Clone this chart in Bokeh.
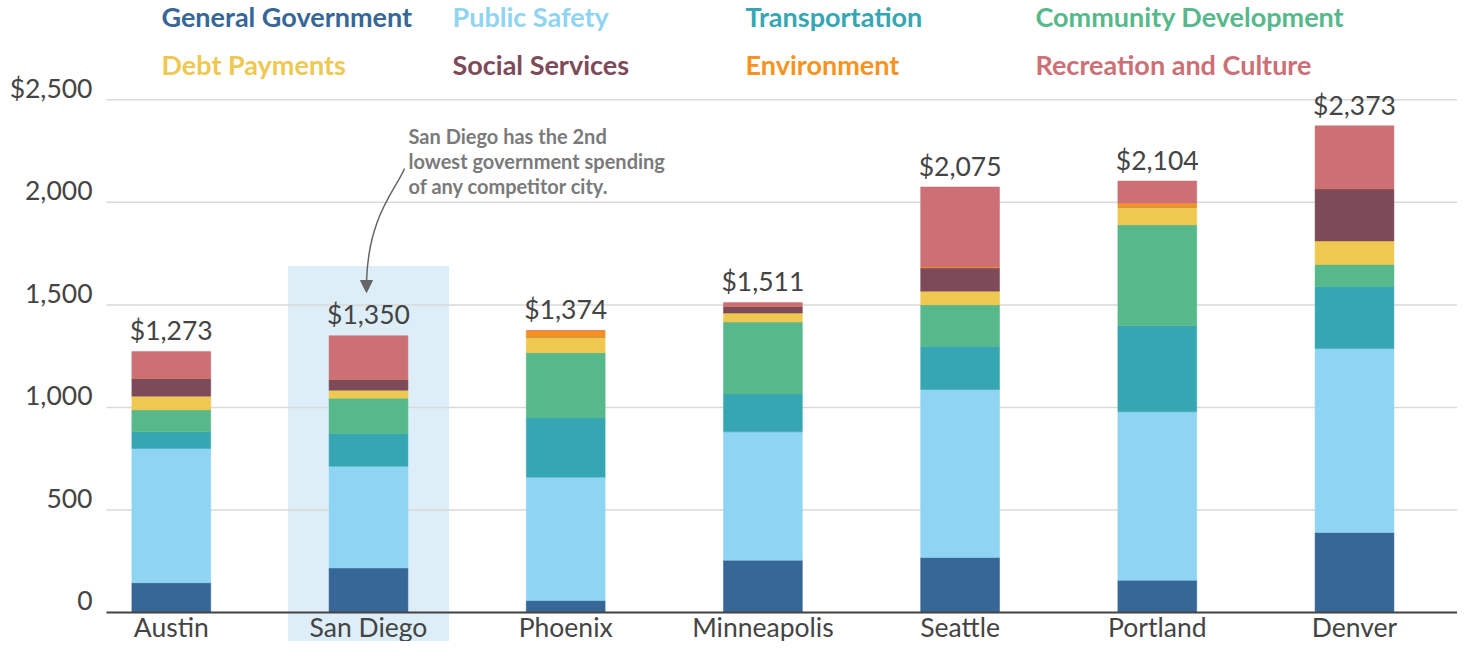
from bokeh.plotting import figure
from bokeh.models import (ColumnDataSource, Range1d, Label, LabelSet, Arrow, NormalHead)
from bokeh.core.properties import value
from bokeh.embed import file_html
from bokeh.resources import INLINE

# ---------------- data ----------------
cities = ["Austin", "San Diego", "Phoenix", "Minneapolis", "Seattle", "Portland", "Denver"]

general_government = [145, 217, 58, 255, 268, 157, 390]
public_safety = [655, 496, 602, 626, 819, 822, 897]
transportation = [81, 159, 289, 184, 210, 419, 303]
community_development = [107, 173, 318, 351, 203, 492, 107]
debt_payments = [67, 39, 77, 44, 67, 88, 115]
social_services = [87, 53, 0, 33, 113, 0, 255]
environment = [0, 0, 30, 0, 5, 17, 0]
recreation_and_culture = [131, 213, 0, 18, 390, 109, 306]

series_names = ["General Government", "Public Safety", "Transportation",
                "Community Development", "Debt Payments", "Social Services",
                "Environment", "Recreation and Culture"]
series_values = [general_government, public_safety, transportation,
                 community_development, debt_payments, social_services,
                 environment, recreation_and_culture]
series_colors = ["#366797", "#8fd4f2", "#36a6b3", "#56b88b",
                 "#eec851", "#7d4a59", "#f7931e", "#cd7076"]

y_ticks = [0, 500, 1000, 1500, 2000, 2500]
y_tick_labels = ["0", "500", "1,000", "1,500", "2,000", "$2,500"]

highlight_city = "San Diego"
highlight_top = 1690
note_lines = ["San Diego has the 2nd", "lowest government spending",
              "of any competitor city."]

# ---------------- layout (pixels inside the figure) ----------------
W, H = 1457, 641
GRID_L = 106
BAR0_PX, BAR_STEP_PX = 170.8, 197.2
ZERO_PX = 612.0
PX_PER_UNIT = (612.0 - 99.3) / 2500


def xd(px):
    return (px - BAR0_PX) / BAR_STEP_PX


def yd(py):
    return (ZERO_PX - py) / PX_PER_UNIT


FONT = "Lato"
TXT = "#444444"

p = figure(width=W, height=H,
           x_range=Range1d(xd(0), xd(W)), y_range=Range1d(yd(H), yd(0)),
           x_axis_location=None, y_axis_location=None,
           toolbar_location=None, output_backend="svg",
           min_border_left=0, min_border_right=0,
           min_border_top=0, min_border_bottom=0,
           outline_line_color=None, background_fill_color="white",
           border_fill_color="white")
p.xgrid.visible = False
p.ygrid.visible = False

xs = list(range(len(cities)))
hi = cities.index(highlight_city)

# highlight box behind everything
p.quad(left=[hi - 0.408], right=[hi + 0.408], bottom=[yd(H) - 200], top=[highlight_top],
       fill_color="#ddeef8", line_color=None)

# value grid lines (0 line drawn darker as the baseline)
grid_src = ColumnDataSource(dict(
    y=y_ticks,
    x0=[xd(GRID_L)] * len(y_ticks),
    x1=[xd(W + 5)] * len(y_ticks),
    color=["#444444" if t == 0 else "#d9d9d9" for t in y_ticks],
    width=[2 if t == 0 else 1.5 for t in y_ticks],
    label_y=[t + 11.6 / PX_PER_UNIT for t in y_ticks],
    label_x=[xd(92)] * len(y_ticks),
    label=y_tick_labels,
))
p.segment(x0="x0", x1="x1", y0="y", y1="y", source=grid_src,
          line_color="#d9d9d9", line_width=1.5)

# y tick labels (sit just above their grid lines)
p.add_layout(LabelSet(x="label_x", y="label_y", text="label", source=grid_src,
                      text_align="right", text_baseline="middle",
                      text_font=value(FONT), text_font_size=value("26.5px"),
                      text_color=TXT))

# stacked bars
data = {"x": xs, "city": cities}
for name, vals in zip(series_names, series_values):
    data[name] = vals
totals = [sum(v[i] for v in series_values) for i in range(len(cities))]
data["total_y"] = [t + 21.3 / PX_PER_UNIT for t in totals]
data["total_label"] = ["${:,}".format(t) for t in totals]
data["city_y"] = [yd(626)] * len(cities)
src = ColumnDataSource(data)

p.vbar_stack(series_names, x="x", width=0.4, source=src,
             fill_color=series_colors, line_color=series_colors, line_width=0.5)

# baseline
p.segment(x0=[xd(GRID_L)], x1=[xd(W + 5)], y0=[0], y1=[0],
          line_color="#444444", line_width=2)

# totals above bars
p.text(x="x", y="total_y", text="total_label", source=src, text_align="center",
       text_baseline="middle", text_font=value(FONT),
       text_font_size=value("26.5px"), text_color=TXT)

# city labels
p.text(x="x", y="city_y", text="city", source=src, text_align="center",
       text_baseline="middle", text_font=value(FONT),
       text_font_size=value("26.5px"), text_color=TXT)

# legend as coloured text
legend_px = [(161, 16.3), (452, 16.3), (745, 16.3), (1035, 16.3),
             (161, 63.6), (452, 63.6), (745, 63.6), (1035, 63.6)]
for name, color, (lx, ly) in zip(series_names, series_colors, legend_px):
    p.add_layout(Label(x=xd(lx), y=yd(ly), text=name, text_font=FONT,
                       text_font_style="bold", text_font_size="27px",
                       text_color=color, text_align="left",
                       text_baseline="middle"))

# annotation
for i, line in enumerate(note_lines):
    p.add_layout(Label(x=xd(408), y=yd(135.3 + 25.3 * i), text=line, text_font=FONT,
                       text_font_style="bold", text_font_size="20px",
                       text_color="#7a7a7a", text_align="left",
                       text_baseline="middle"))

p.bezier(x0=[xd(404)], y0=[yd(168)], x1=[xd(366)], y1=[yd(281)],
         cx0=[xd(395)], cy0=[yd(190)], cx1=[xd(368)], cy1=[yd(215)],
         line_color="#666666", line_width=1.5)
p.add_layout(Arrow(end=NormalHead(size=12, fill_color="#666666", line_color="#666666"),
                   x_start=xd(366), y_start=yd(279), x_end=xd(366), y_end=yd(292),
                   line_color="#666666", line_width=1.5))

open("out.html", "w").write(file_html(p, INLINE))
